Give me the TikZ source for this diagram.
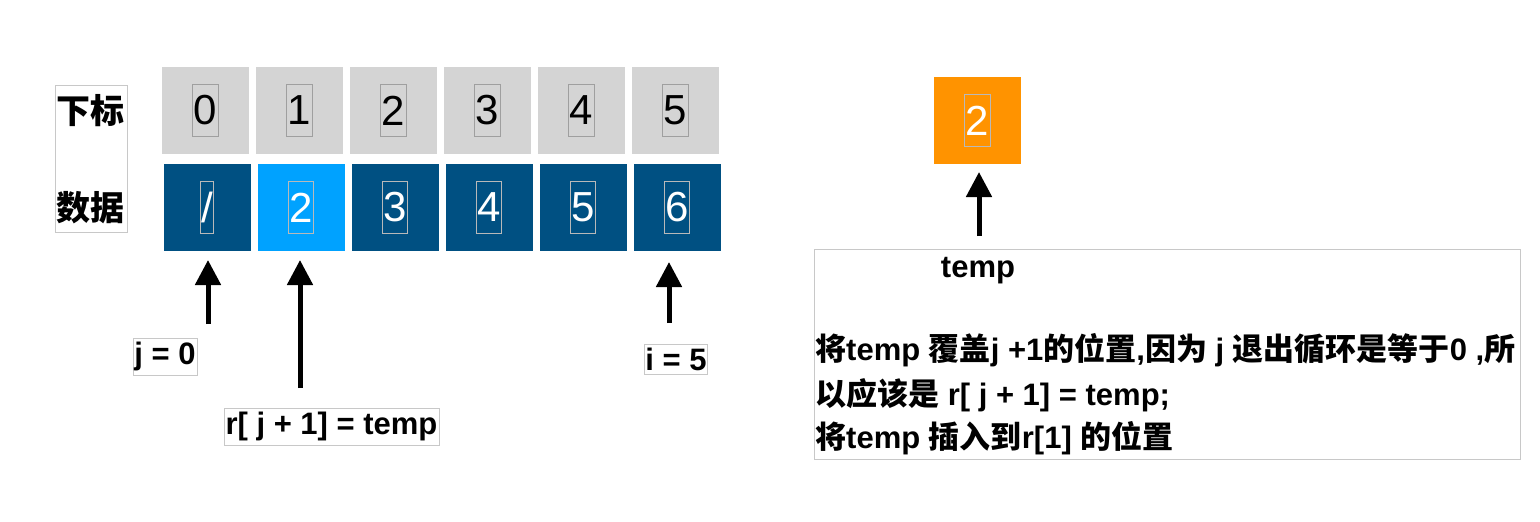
\documentclass[tikz,border=0pt]{standalone}
\usepackage{fontspec}
\setmainfont{Liberation Sans}
\newfontfamily\cjk{Noto Sans CJK SC}
\usetikzlibrary{arrows.meta}
\definecolor{idxgray}{RGB}{212,212,212}
\definecolor{dblue}{RGB}{0,80,130}
\definecolor{lblue}{RGB}{0,162,255}
\definecolor{orng}{RGB}{255,147,0}
\definecolor{framegray}{RGB}{200,200,200}
\newcommand{\C}[1]{{\cjk\bfseries #1}}
\begin{document}
\begin{tikzpicture}[x=1pt,y=-1pt,
  cell/.style={minimum width=87pt,minimum height=87pt,inner sep=0pt,outer sep=0pt},
  idx/.style={cell,fill=idxgray},
  dat/.style={cell,fill=dblue},
  digit/.style={draw=gray!75,line width=0.8pt,minimum height=52pt,inner xsep=1pt,inner ysep=0pt,font=\fontsize{42}{42}\selectfont},
  wdigit/.style={digit,text=white,draw=gray!55},
  lab/.style={draw=framegray,line width=1pt,inner sep=1pt,font=\fontsize{31}{36}\selectfont\bfseries},
  txt/.style={inner sep=0pt,anchor=west,font=\fontsize{31}{36}\selectfont\bfseries},
  arr/.style={line width=5pt,-{Triangle[width=25pt,length=25pt]}}]
\useasboundingbox (0,0) rectangle (1540,522);

% label box
\node[draw=framegray,line width=1pt,minimum width=72pt,minimum height=147pt,inner sep=0pt] (lb) at (91,158.5) {};
\node[font=\fontsize{34}{34}\selectfont\cjk\bfseries,inner sep=0pt] (lbt) at (90,111) {下标};
\node[font=\fontsize{34}{34}\selectfont\cjk\bfseries,inner sep=0pt] (lbd) at (90,208) {数据};

% index row
\node[idx] (x0) at (205.5,110.5) {}; \node[digit] (xt0) at (x0) {0};
\node[idx] (x1) at (299.5,110.5) {}; \node[digit] (xt1) at (x1) {1};
\node[idx] (x2) at (393.5,110.5) {}; \node[digit] (xt2) at (x2) {2};
\node[idx] (x3) at (487.5,110.5) {}; \node[digit] (xt3) at (x3) {3};
\node[idx] (x4) at (581.5,110.5) {}; \node[digit] (xt4) at (x4) {4};
\node[idx] (x5) at (675.5,110.5) {}; \node[digit] (xt5) at (x5) {5};

% data row
\node[dat] (d0) at (207,207.5) {}; \node[wdigit] (dt0) at (d0) {/};
\node[dat,fill=lblue] (d1) at (301,207.5) {}; \node[wdigit] (dt1) at (d1) {2};
\node[dat] (d2) at (395,207.5) {}; \node[wdigit] (dt2) at (d2) {3};
\node[dat] (d3) at (489,207.5) {}; \node[wdigit] (dt3) at (d3) {4};
\node[dat] (d4) at (583,207.5) {}; \node[wdigit] (dt4) at (d4) {5};
\node[dat] (d5) at (677,207.5) {}; \node[wdigit] (dt5) at (d5) {6};

% temp box
\node[cell,fill=orng] (tmp) at (977.5,120.5) {}; \node[wdigit] (tmpt) at (tmp) {2};

% labels
\node[lab,minimum width=64pt,minimum height=37pt] (jl) at (165,356.5) {j = 0};
\node[lab,minimum width=215pt,minimum height=37pt] (rl) at (331.5,426.5) {r[ j + 1] = temp};
\node[lab,minimum width=62pt,minimum height=30pt] (il) at (676,359) {i = 5};

% arrows
\coordinate (ja) at (208,324); \coordinate (jb) at (208,260);
\coordinate (ra) at (300,388); \coordinate (rb) at (300,260);
\coordinate (ia) at (669,323); \coordinate (ib) at (669,262);
\coordinate (ta) at (979,236); \coordinate (tb) at (979,172);
\draw[arr] (ja) -- (jb);
\draw[arr] (ra) -- (rb);
\draw[arr] (ia) -- (ib);
\draw[arr] (ta) -- (tb);

% explanation box
\node[draw=framegray,line width=1pt,minimum width=706pt,minimum height=210pt,inner sep=0pt] (box) at (1167,354) {};
\node[inner sep=0pt,font=\fontsize{31}{36}\selectfont\bfseries] (tw) at (978,271) {temp};
\node[txt] (l1) at (815,350) {\C{将}temp \C{覆盖}j +1\C{的位置},\C{因为} j \C{退出循环是等于}0 ,\C{所}};
\node[txt] (l2) at (815,395) {\C{以应该是} r[ j + 1] = temp;};
\node[txt] (l3) at (815,438) {\C{将}temp \C{插入到}r[1] \C{的位置}};
\end{tikzpicture}
\end{document}
